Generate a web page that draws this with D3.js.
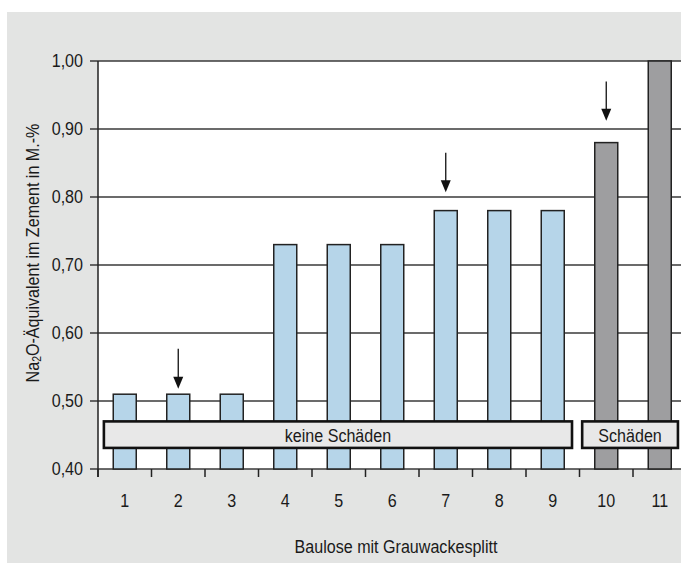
<!DOCTYPE html>
<html>
<head>
<meta charset="utf-8">
<script src="https://cdn.jsdelivr.net/npm/d3@7"></script>
<style>
  html, body { margin: 0; padding: 0; background: #ffffff; }
  svg { display: block; }
  text { font-family: "Liberation Sans", Arial, sans-serif; fill: #1a1a1a; }
</style>
</head>
<body>
<svg id="chart" width="681" height="565"></svg>
<script>
// ---- data ----
const categories = ["1", "2", "3", "4", "5", "6", "7", "8", "9", "10", "11"];
const values = [0.51, 0.51, 0.51, 0.73, 0.73, 0.73, 0.78, 0.78, 0.78, 0.88, 1.00];
const damaged = [false, false, false, false, false, false, false, false, false, true, true];
const yTicks = [0.40, 0.50, 0.60, 0.70, 0.80, 0.90, 1.00];
const arrowCats = ["2", "7", "10"];
const arrowFrom = [0.577, 0.865, 0.970];
const arrowTo = [0.518, 0.807, 0.912];
const boxLabels = ["keine Schäden", "Schäden"];
const boxStart = [0.61, 9.55];   // in category units (category i centred at i)
const boxEnd = [9.36, 11.34];
const boxTop = [0.470, 0.470];
const boxBottom = [0.431, 0.431];
const xTitle = "Baulose mit Grauwackesplitt";

(function () {
// ---- layout ----
const svg = d3.select("#chart");
const W = 681;
const pL = 98, pT = 61, pB = 469;
const bandW = 53.5;
const pR = pL + bandW * categories.length;
const FS = 18.5, SX = 0.87;   // condensed look

svg.append("rect").attr("x", 7).attr("y", 12).attr("width", W - 7).attr("height", 551).attr("fill", "#e3e4e3");
svg.append("rect").attr("x", pL).attr("y", pT).attr("width", pR - pL).attr("height", pB - pT).attr("fill", "#ffffff");

const x = d3.scaleBand().domain(categories).range([pL, pR]).paddingInner(0).paddingOuter(0);
const xc = d3.scaleLinear().domain([0.5, categories.length + 0.5]).range([pL, pR]);
const y = d3.scaleLinear().domain([0.40, 1.00]).range([pB, pT]);

function label(sel, xf, yf, anchor) {
  return sel.attr("transform", (d, i) => `translate(${xf(d, i)},${yf(d, i)}) scale(${SX},1)`)
    .attr("text-anchor", anchor).attr("dominant-baseline", "central")
    .attr("font-size", FS);
}

// gridlines
svg.append("g").selectAll("line").data(yTicks).join("line")
  .attr("x1", pL - 8).attr("x2", W)
  .attr("y1", d => y(d)).attr("y2", d => y(d))
  .attr("stroke", "#3a3a3a").attr("stroke-width", 1.5);

// y axis labels
const fmt = d => d.toFixed(2).replace(".", ",");
label(svg.append("g").selectAll("text").data(yTicks).join("text"),
  () => pL - 15, d => y(d), "end").text(fmt);

// bars
const bw = 23;
svg.append("g").selectAll("rect").data(categories).join("rect")
  .attr("x", d => x(d) + (x.bandwidth() - bw) / 2)
  .attr("y", (d, i) => y(values[i]))
  .attr("width", bw)
  .attr("height", (d, i) => y(0.40) - y(values[i]))
  .attr("fill", (d, i) => damaged[i] ? "#9e9ea0" : "#b6d5e9")
  .attr("stroke", "#222").attr("stroke-width", 1.5);

// x ticks at band boundaries
const bounds = categories.map(c => x(c));
svg.append("g").selectAll("line").data(bounds).join("line")
  .attr("x1", d => d).attr("x2", d => d)
  .attr("y1", pB).attr("y2", pB + 8)
  .attr("stroke", "#222").attr("stroke-width", 1.5);

// y axis line
svg.append("line").attr("x1", pL).attr("x2", pL).attr("y1", pT).attr("y2", pB + 8)
  .attr("stroke", "#222").attr("stroke-width", 1.5);

// x labels
label(svg.append("g").selectAll("text").data(categories).join("text"),
  d => x(d) + x.bandwidth() / 2, () => 501, "middle").text(d => d);

// label boxes
const boxes = svg.append("g").selectAll("g").data(boxLabels).join("g");
boxes.append("rect")
  .attr("x", (d, i) => xc(boxStart[i]))
  .attr("y", (d, i) => y(boxTop[i]))
  .attr("width", (d, i) => xc(boxEnd[i]) - xc(boxStart[i]))
  .attr("height", (d, i) => y(boxBottom[i]) - y(boxTop[i]))
  .attr("fill", "#e8e8e8").attr("stroke", "#111").attr("stroke-width", 2.6);
label(boxes.append("text"),
  (d, i) => (xc(boxStart[i]) + xc(boxEnd[i])) / 2,
  (d, i) => (y(boxTop[i]) + y(boxBottom[i])) / 2 + 1, "middle").text(d => d);

// arrows
svg.append("g").selectAll("line").data(arrowCats).join("line")
  .attr("x1", d => x(d) + x.bandwidth() / 2).attr("x2", d => x(d) + x.bandwidth() / 2)
  .attr("y1", (d, i) => y(arrowFrom[i])).attr("y2", (d, i) => y(arrowTo[i]) - 10)
  .attr("stroke", "#111").attr("stroke-width", 1.3);
svg.append("g").selectAll("path").data(arrowCats).join("path")
  .attr("d", (d, i) => {
    const cx = x(d) + x.bandwidth() / 2, ty = y(arrowTo[i]);
    return `M${cx - 5},${ty - 12} L${cx + 5},${ty - 12} L${cx},${ty} Z`;
  })
  .attr("fill", "#111");

// axis titles
label(svg.append("text").datum(xTitle), () => 396, () => 547, "middle").text(xTitle);

const yt = svg.append("text")
  .attr("transform", `translate(33,253) rotate(-90) scale(${SX},1)`)
  .attr("text-anchor", "middle").attr("dominant-baseline", "central")
  .attr("font-size", FS);
yt.append("tspan").text("Na");
yt.append("tspan").attr("font-size", 12).attr("dy", 4).text("2");
yt.append("tspan").attr("dy", -4).text("O-Äquivalent im Zement in M.-%");
})();
</script>
</body>
</html>
